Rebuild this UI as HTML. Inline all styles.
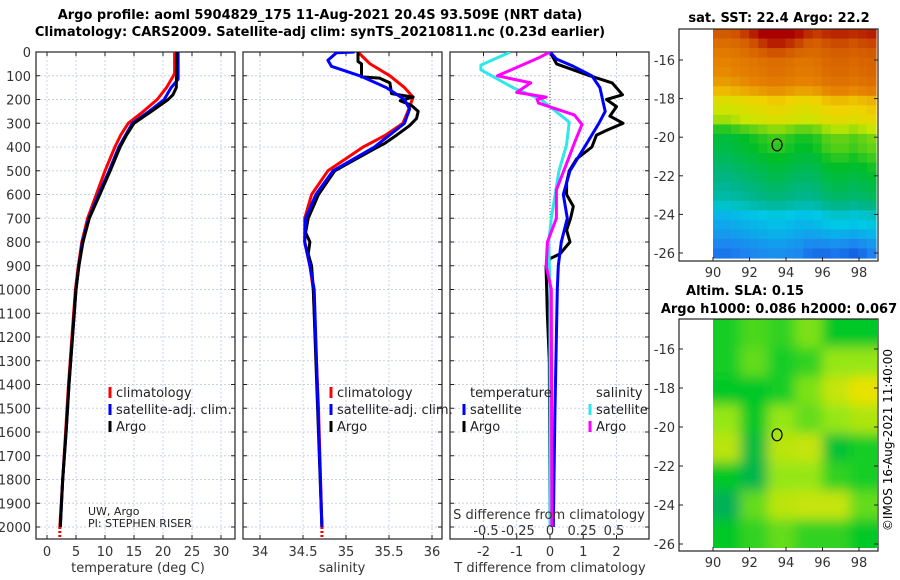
<!DOCTYPE html>
<html><head><meta charset="utf-8">
<style>
html,body{margin:0;padding:0;background:#fff;}
svg{display:block;font-family:"DejaVu Sans","Liberation Sans",sans-serif;}
</style></head>
<body>
<svg id="fig" width="900" height="580" viewBox="0 0 900 580" xmlns="http://www.w3.org/2000/svg">
<defs>
<filter id="blur" x="-10%" y="-10%" width="120%" height="120%"><feGaussianBlur stdDeviation="6"/></filter>
<clipPath id="clip1"><rect x="36" y="52" width="199" height="487"/></clipPath>
<clipPath id="clip2"><rect x="243" y="52" width="199" height="487"/></clipPath>
<clipPath id="clip3"><rect x="450" y="52" width="199" height="487"/></clipPath>
<clipPath id="clipm2"><rect x="713" y="319" width="164" height="229"/></clipPath>
</defs>
<text x="320" y="19" text-anchor="middle" font-size="13" font-weight="bold">Argo profile: aoml 5904829_175 11-Aug-2021 20.4S 93.509E (NRT data)</text>
<text x="320" y="36" text-anchor="middle" font-size="13" font-weight="bold">Climatology: CARS2009. Satellite-adj clim: synTS_20210811.nc (0.23d earlier)</text>
<text x="779" y="22" text-anchor="middle" font-size="13" font-weight="bold">sat. SST: 22.4 Argo: 22.2</text>
<text x="745" y="295" text-anchor="middle" font-size="13" font-weight="bold">Altim. SLA: 0.15</text>
<text x="779" y="313" text-anchor="middle" font-size="13" font-weight="bold">Argo h1000: 0.086 h2000: 0.067</text>
<text transform="translate(892,440) rotate(-90)" text-anchor="middle" font-size="12">©IMOS 16-Aug-2021 11:40:00</text>
<g id="g"></g>
</svg>
<script>
// ---- Temperature panel data ----
const tDepthClim = [0,90,100,150,200,250,300,350,400,500,600,700,800,900,1000,1200,1400,1600,1800,2000];
const tClim = [22.0,22.0,21.8,20.6,19.0,16.6,14.0,12.7,11.7,10.0,8.5,7.0,6.0,5.4,4.9,4.3,3.7,3.2,2.7,2.2];
const tDepthSat = [0,115,150,200,250,300,400,500,600,700,800,900,1000,1200,1400,1600,1800,2000];
const tSat = [22.6,22.6,21.4,20.2,17.6,14.7,12.4,10.7,8.9,7.2,6.1,5.5,5.0,4.4,3.8,3.3,2.7,2.3];
const tDepthArgo = [0,150,180,200,250,300,350,400,500,600,700,800,900,1000,1200,1400,1600,1800,2000];
const tArgo = [22.4,22.3,21.7,20.9,18.0,15.0,13.7,12.6,10.9,9.1,7.3,6.2,5.5,5.0,4.4,3.8,3.3,2.7,2.3];
// ---- Salinity panel data ----
const sDepthClim = [0,50,100,150,190,250,300,350,400,500,600,700,800,900,1000,1500,2000];
const sClim = [35.14,35.28,35.51,35.68,35.78,35.72,35.66,35.46,35.2,34.79,34.6,34.52,34.52,34.58,34.62,34.68,34.72];
const sDepthSat = [0,3,35,60,100,150,200,240,300,400,500,600,700,800,900,1000,2000];
const sSat = [35.1,34.89,34.79,34.83,35.16,35.47,35.68,35.74,35.68,35.33,34.85,34.65,34.53,34.52,34.58,34.63,34.72];
const sDepthArgo = [0,40,50,105,110,130,175,190,205,225,250,280,310,350,385,400,500,600,700,760,800,850,900,1000,2000];
const sArgo = [35.14,35.14,35.18,35.18,35.39,35.51,35.53,35.78,35.63,35.76,35.84,35.82,35.74,35.59,35.45,35.37,34.87,34.68,34.56,34.53,34.58,34.56,34.6,34.62,34.72];
// ---- Difference panel data ----
const dDepthTS = [0,30,60,100,150,250,300,400,500,600,700,800,900,1000,1500,2000];
const dTSat = [0,0.2,0.7,1.26,1.5,1.66,1.47,1.04,0.6,0.4,0.52,0.34,0.25,0.22,0.15,0.1];
const dDepthTA = [0,50,100,130,180,200,230,270,300,330,350,400,450,500,550,600,650,700,750,800,850,870,900,1000,1100,1300,2000];
const dTArgo = [0,0.2,1.2,1.87,2.18,1.7,2.0,1.8,2.2,1.7,1.4,1.26,0.8,0.58,0.5,0.5,0.7,0.62,0.5,0.6,0.3,0.0,-0.12,-0.1,-0.08,-0.02,0];
const dDepthSS = [0,55,75,150,200,295,390,500,700,800,1000,2000];
const dSSat = [-0.31,-0.54,-0.54,-0.29,-0.07,0.15,0.13,0.07,0.01,-0.01,0,0];
const dDepthSA = [0,25,100,130,170,190,200,215,265,305,370,455,580,700,800,900,1000,2000];
const dSArgo = [0,-0.09,-0.41,-0.15,-0.26,-0.03,-0.1,-0.09,0.19,0.25,0.2,0.14,0.05,0.05,-0.02,-0.03,0.01,0.015];
// ---- Tick labels ----
const depthTicks = [0,100,200,300,400,500,600,700,800,900,1000,1100,1200,1300,1400,1500,1600,1700,1800,1900,2000];
const tTicks = [0,5,10,15,20,25,30];
const sTicks = [34,34.5,35,35.5,36];
const dTTicks = [-2,-1,0,1,2];
const dSTicks = [-0.5,-0.25,0,0.25,0.5];
const lonTicks = [90,92,94,96,98];
const latTicks = [-16,-18,-20,-22,-24,-26];
// ---- SST map data (row = latitude band, col = longitude band) ----
const sstRowVals = [0.9,0.85,0.82,0.8,0.79,0.77,0.73,0.66,0.63,0.6,0.54,0.5,0.49,0.47,0.45,0.43,0.41,0.39,0.35,0.28,0.25,0.22,0.18,0.15];
const sstColOff = [-0.02,-0.02,-0.01,0,0.01,0.02,0.03,0.03,0.02,0.01,0.01,0.02,0.04,0.05,0.05,0.04,0.05,0.06];
const sstTopPatch = [0,0,0,0.02,0.05,0.09,0.12,0.12,0.1,0.07,0.03,0,0,0,0,0,0,0];
const sstBottomPatch = [0,0,0,0,0,0,0,0,0,0,-0.03,-0.05,-0.07,-0.07,-0.08,-0.09,-0.08,-0.06];
// ---- SLA map data ----
const slaGrid = [
 [0.35,0.45,0.4,0.55,0.3,0.3],
 [0.35,0.5,0.35,0.4,0.6,0.6],
 [0.3,0.3,0.35,0.55,0.8,0.95],
 [0.6,0.3,0.6,0.5,0.6,0.7],
 [0.75,0.2,0.75,0.8,0.25,0.35],
 [0.3,0.15,0.6,0.6,0.4,0.35],
 [0.1,0.5,0.75,0.8,0.8,0.5],
 [0.3,0.4,0.5,0.4,0.4,0.3]];
const argoLon = 93.509, argoLat = -20.4;

const NS='http://www.w3.org/2000/svg';
const G=document.getElementById('g');
function el(tag,attrs,parent){const e=document.createElementNS(NS,tag);for(const k in attrs)e.setAttribute(k,attrs[k]);(parent||G).appendChild(e);return e;}
function txt(s,attrs,parent){const e=el('text',attrs,parent);e.textContent=s;return e;}

const TOP=52, BOT=539;
const yD = d => TOP + d*(527-52)/2000;
const xT = v => 47 + v*5.8;
const xS = v => 260 + (v-34)*86;
const xDT = v => 550 + v*33.25;
const xDS = v => 550 + v*128;

function frame(x0,name,xs,ticks,labelFn,showY){
  const w=199;
  const grid=el('g',{});
  
  
  depthTicks.forEach(d=>{el('line',{x1:x0,x2:x0+w,y1:yD(d),y2:yD(d),stroke:'#c8d0e8','stroke-dasharray':'2,2','stroke-width':1},grid);
    el('line',{x1:x0,x2:x0+4,y1:yD(d),y2:yD(d),stroke:'#222'},grid);el('line',{x1:x0+w-4,x2:x0+w,y1:yD(d),y2:yD(d),stroke:'#222'},grid);});
  ticks.forEach(t=>{const x=xs(t);el('line',{x1:x,x2:x,y1:TOP,y2:BOT,stroke:'#c8d0e8','stroke-dasharray':'2,2'},grid);
    el('line',{x1:x,x2:x,y1:TOP,y2:TOP+4,stroke:'#222'},grid);el('line',{x1:x,x2:x,y1:BOT-4,y2:BOT,stroke:'#222'},grid);
    const l=txt(labelFn(t),{x:x,y:556,'text-anchor':'middle','font-size':13,fill:'#333'});
    
    });
  const r=el('rect',{x:x0,y:TOP,width:w,height:BOT-TOP,fill:'none',stroke:'#222','stroke-width':1.2});
  
  
  if(showY){depthTicks.forEach(d=>{const l=txt(String(d),{x:x0-5,y:yD(d)+5,'text-anchor':'end','font-size':13,fill:'#333'});
    
    });}
}
function line(depths,vals,xs,color,name,clip,w,dash){
  const pts=depths.map((d,i)=>xs(vals[i]).toFixed(1)+','+yD(d).toFixed(1)).join(' ');
  const p=el('polyline',{points:pts,fill:'none',stroke:color,'stroke-width':w||3,'stroke-linejoin':'round','clip-path':'url(#'+clip+')'});
  if(dash)p.setAttribute('stroke-dasharray',dash);
  
  
  return p;
}
frame(36,'temperature-panel',xT,tTicks,String,true);
frame(243,'salinity-panel',xS,sTicks,String,false);
frame(450,'difference-panel',xDT,dTTicks,String,false);

line(tDepthClim,tClim,xT,'#f00','temp-climatology-line','clip1');
line([2000,2060],[tClim[tClim.length-1],tClim[tClim.length-1]],xT,'#f00','temp-climatology-deep','clip1',3,'2,2');
line(tDepthSat,tSat,xT,'#00f','temp-satellite-line','clip1');
line(tDepthArgo,tArgo,xT,'#000','temp-argo-line','clip1');

line(sDepthClim,sClim,xS,'#f00','sal-climatology-line','clip2');
line([2000,2060],[sClim[sClim.length-1],sClim[sClim.length-1]],xS,'#f00','sal-climatology-deep','clip2',3,'2,2');
line(sDepthArgo,sArgo,xS,'#000','sal-argo-line','clip2');
line(sDepthSat,sSat,xS,'#00f','sal-satellite-line','clip2');

const zl=el('line',{x1:xDT(0),x2:xDT(0),y1:TOP,y2:yD(880),stroke:'#555','stroke-dasharray':'1,2','stroke-width':1});


line(dDepthTA,dTArgo,xDT,'#000','tdiff-argo-line','clip3');
line(dDepthTS,dTSat,xDT,'#00f','tdiff-satellite-line','clip3');
line(dDepthSS,dSSat,xDS,'#2ee8e8','sdiff-satellite-line','clip3');
line(dDepthSA,dSArgo,xDS,'#f0f','sdiff-argo-line','clip3');

[['temperature (deg C)',138,'temperature-axis-title'],['salinity',342,'salinity-axis-title'],['T difference from climatology',550,'tdiff-axis-title']].forEach(a=>{
  const t=txt(a[0],{x:a[1],y:572,'text-anchor':'middle','font-size':13,fill:'#333'});
  
  });
const st=txt('S difference from climatology',{x:549,y:519,'text-anchor':'middle','font-size':13,fill:'#333'});


dSTicks.forEach(v=>{const t=txt(String(v),{x:xDS(v),y:535,'text-anchor':'middle','font-size':13,fill:'#333'});
  
  });

function legend(x,y,color,label,name){
  const g=el('g',{});
  
  
  el('line',{x1:x,x2:x,y1:y-10,y2:y+1,stroke:color,'stroke-width':3},g);
  txt(label,{x:x+6,y:y,'font-size':13,fill:'#222'},g);
}
[[110,'temp'],[331,'sal']].forEach(p=>{
  legend(p[0],397,'#f00','climatology',p[1]+'-legend-climatology');
  legend(p[0],414,'#00f','satellite-adj. clim.',p[1]+'-legend-satellite');
  legend(p[0],431,'#000','Argo',p[1]+'-legend-argo');});
const lt=txt('temperature',{x:470,y:397,'font-size':13,fill:'#222'});


const ls=txt('salinity',{x:596,y:397,'font-size':13,fill:'#222'});


legend(464,414,'#00f','satellite','legend-tdiff-satellite');
legend(464,431,'#000','Argo','legend-tdiff-argo');
legend(590,414,'#2ee8e8','satellite','legend-sdiff-satellite');
legend(590,431,'#f0f','Argo','legend-sdiff-argo');
const pi1=txt('UW, Argo',{x:88,y:515,'font-size':11,fill:'#222'});


const pi2=txt('PI: STEPHEN RISER',{x:88,y:527,'font-size':11,fill:'#222'});



function mapAxes(top,bottom,lat16,lat26,name){
  const xL=lon=>713+(lon-90)*18.25;
  const yL=lat=>lat16+(lat+16)*(lat26-lat16)/-10;
  return {xL,yL,frame(){
    const r=el('rect',{x:679,y:top,width:199,height:bottom-top,fill:'none',stroke:'#222','stroke-width':1.2});
    
    
    lonTicks.forEach(l=>{el('line',{x1:xL(l),x2:xL(l),y1:bottom,y2:bottom-4,stroke:'#222'});
      const t=txt(String(l),{x:xL(l),y:bottom+16,'text-anchor':'middle','font-size':13,fill:'#333'});
      
      });
    latTicks.forEach(l=>{el('line',{x1:679,x2:683,y1:yL(l),y2:yL(l),stroke:'#222'});el('line',{x1:874,x2:878,y1:yL(l),y2:yL(l),stroke:'#222'});
      const t=txt(String(l),{x:675,y:yL(l)+5,'text-anchor':'end','font-size':13,fill:'#333'});
      
      });
    const c=el('ellipse',{cx:xL(argoLon),cy:yL(argoLat),rx:5,ry:6,fill:'none',stroke:'#000','stroke-width':1.2});
    
    
  }};
}
const stops=[[0,[0,40,200]],[0.15,[30,130,240]],[0.3,[0,200,230]],[0.4,[0,180,140]],[0.5,[0,190,40]],[0.6,[200,230,0]],[0.68,[240,210,0]],[0.78,[230,130,0]],[0.88,[210,90,0]],[1,[170,0,0]]];
function cmap(v,st){v=Math.max(0,Math.min(1,v));for(let i=1;i<st.length;i++){if(v<=st[i][0]){const a=st[i-1],b=st[i],f=(v-a[0])/(b[0]-a[0]);return 'rgb('+a[1].map((c,k)=>Math.round(c+(b[1][k]-c)*f)).join(',')+')';}}return 'rgb('+st[st.length-1][1].join(',')+')';}
const m1=mapAxes(29,261,60,253,'sst-map');
const mg1=el('g',{});


const nR=sstRowVals.length,nC=sstColOff.length,cw=(876-713)/nC,ch=(258-29)/nR;
sstRowVals.forEach((rv,i)=>sstColOff.forEach((co,j)=>{
  let v=rv+co;
  if(i<3)v+=sstTopPatch[j]*(3-i)/3;
  if(i>=nR-3)v+=sstBottomPatch[j]*(i-nR+4)/3;
  const c=el('rect',{x:(713+j*cw).toFixed(2),y:(29+i*ch).toFixed(2),width:(cw+0.6).toFixed(2),height:(ch+0.6).toFixed(2),fill:cmap(v,stops)},mg1);
  
  
}));
m1.frame();
const slaStops=[[0,[0,165,110]],[0.3,[0,200,40]],[0.6,[150,230,20]],[1,[245,225,0]]];
const m2=mapAxes(319,551,349,544,'sla-map');
const clipG=el('g',{'clip-path':'url(#clipm2)'});
const mg2=el('g',{filter:'url(#blur)'},clipG);


const sR=slaGrid.length,sC=slaGrid[0].length,sw=164/sC,sh=229/sR;
slaGrid.forEach((row,i)=>row.forEach((v,j)=>{
  let x=713+j*sw,y=319+i*sh,w=sw+1,h=sh+1;
  if(j===0){x-=30;w+=30;} if(j===sC-1){w+=30;}
  if(i===0){y-=30;h+=30;} if(i===sR-1){h+=30;}
  const c=el('rect',{x:x.toFixed(1),y:y.toFixed(1),width:w.toFixed(1),height:h.toFixed(1),fill:cmap(v,slaStops)},mg2);
  
  
}));
m2.frame();
</script>
</body></html>
